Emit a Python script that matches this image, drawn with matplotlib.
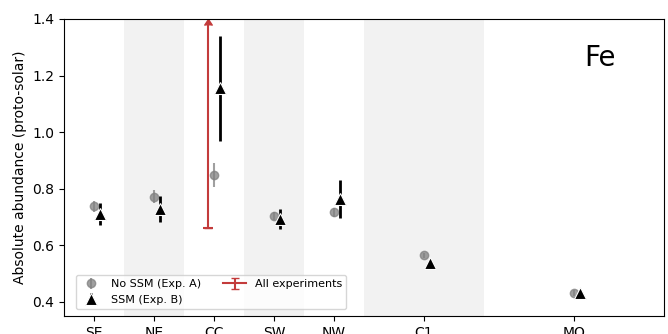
import matplotlib
matplotlib.use("Agg")
import matplotlib.pyplot as plt
import numpy as np

# regions and their x positions
regions = ["SE", "NE", "CC", "SW", "NW", "C1", "MO"]
xpos = np.array([0, 1, 2, 3, 4, 5.5, 8])

# no SSM (Exp. A)
a_val = [0.738, 0.772, 0.849, 0.704, 0.716, 0.564, 0.431]
a_err = [0.020, 0.022, 0.042, 0.015, 0.016, 0.010, 0.012]

# SSM (Exp. B)
b_val = [0.710, 0.729, 1.155, 0.692, 0.764, 0.537, 0.431]
b_err = [0.040, 0.047, 0.185, 0.036, 0.066, 0.015, 0.012]

# all experiments range (CC only)
red_x = 2
red_lo = 0.66
red_hi = 1.38

# shaded bands (start, end)
bands = [(0.5, 1.5), (2.5, 3.5), (4.5, 6.5)]

fig = plt.figure(figsize=(6.68, 3.34), dpi=100)
ax = fig.add_axes([64/668, 18/334, 600/668, 297/334])

for b0, b1 in bands:
    ax.axvspan(b0, b1, color="#f2f2f2", zorder=0, lw=0)

ax.errorbar(xpos, a_val, yerr=a_err, fmt="o", color="grey", alpha=0.75,
            ms=6, elinewidth=1.5, label="No SSM (Exp. A)", zorder=3)
ax.errorbar(xpos + 0.1, b_val, yerr=b_err, fmt="^", color="black",
            mec="white", mew=0.8, ms=8, elinewidth=2, label="SSM (Exp. B)", zorder=4)

red = "#c33b3b"
ax.errorbar([red_x - 0.1], [red_lo], yerr=[red_hi - red_lo], lolims=True,
            color=red, capsize=3, elinewidth=1.5, label="All experiments", zorder=2)
ax.plot([red_x - 0.1], [red_lo], marker="_", ms=7, mew=1.5, color=red, zorder=2)

ax.set_xlim(-0.5, 9.5)
ax.set_ylim(0.35, 1.4)
ax.set_xticks(xpos)
ax.set_xticklabels(regions)
ax.set_yticks([0.4, 0.6, 0.8, 1.0, 1.2, 1.4])
ax.tick_params(labelsize=10)
ax.set_ylabel("Absolute abundance (proto-solar)", fontsize=10)

ax.text(0.893, 0.87, "Fe", transform=ax.transAxes, fontsize=20,
        ha="center", va="center")

ax.legend(loc="lower left", ncol=2, fontsize=8, bbox_to_anchor=(0.01, 0.005))

fig.savefig("out.png", dpi=100)
